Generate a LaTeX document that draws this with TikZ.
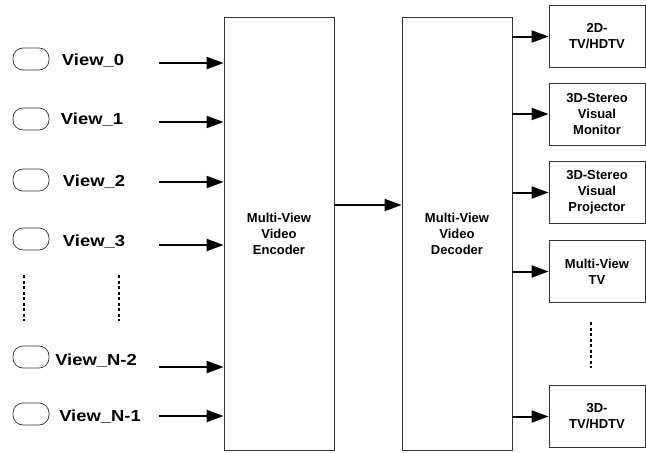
\documentclass[tikz,border=0pt]{standalone}
\usepackage{fontspec}
\setmainfont{Liberation Sans}
\newfontfamily\widesans[FakeStretch=1.15]{Liberation Sans}
\usetikzlibrary{arrows.meta}

\tikzset{
  bigbox/.style={draw=black!80, line width=0.8pt, minimum width=110pt, minimum height=433pt, align=center, font=\fontsize{13}{16}\selectfont\bfseries},
  outbox/.style={draw=black!80, line width=0.8pt, minimum width=96pt, minimum height=62pt, align=center, font=\fontsize{13}{16}\selectfont\bfseries},
  cam/.style={draw=black!80, line width=0.7pt, rounded corners=10pt, minimum width=36pt, minimum height=22pt},
  viewlbl/.style={font=\widesans\fontsize{16}{18}\selectfont\bfseries},
  arr/.style={line width=2pt, -{Triangle[length=17pt,width=12pt]}},
  dots/.style={line width=2pt, dash pattern=on 3pt off 2.5pt}
}

\begin{document}
\begin{tikzpicture}[x=1pt,y=-1pt]
\useasboundingbox (0,0) rectangle (646,453);

\node[bigbox] (enc) at (279,233.5) {Multi-View\\Video\\Encoder};
\node[bigbox] (dec) at (457,233.5) {Multi-View\\Video\\Decoder};

% views
\node[cam] (c0) at (31,59) {};
\node[cam] (c1) at (31,119) {};
\node[cam] (c2) at (31,180) {};
\node[cam] (c3) at (31,239) {};
\node[cam] (c4) at (31,357) {};
\node[cam] (c5) at (31,414) {};

\node[viewlbl] (v0) at (93,61) {View\_0};
\node[viewlbl] (v1) at (92,120) {View\_1};
\node[viewlbl] (v2) at (94,182) {View\_2};
\node[viewlbl] (v3) at (94,242) {View\_3};
\node[viewlbl] (v4) at (96,361) {View\_N-2};
\node[viewlbl] (v5) at (100,417) {View\_N-1};

\coordinate (a0) at (159,63);
\coordinate (a1) at (159,122);
\coordinate (a2) at (159,182);
\coordinate (a3) at (159,245);
\coordinate (a4) at (159,367);
\coordinate (a5) at (159,416);

\coordinate (d0) at (24,275);
\coordinate (d1) at (24,321);
\coordinate (d2) at (119,275);
\coordinate (d3) at (119,321);

% displays
\node[outbox] (o0) at (597,36.5) {2D-\\TV/HDTV};
\node[outbox] (o1) at (597,114) {3D-Stereo\\Visual\\Monitor};
\node[outbox] (o2) at (597,192.5) {3D-Stereo\\Visual\\Projector};
\node[outbox] (o3) at (597,271.5) {Multi-View\\TV};
\node[outbox] (o4) at (597,416.5) {3D-\\TV/HDTV};

\coordinate (d4) at (591,322);
\coordinate (d5) at (591,368);

\path[]
(a0) edge[arr] (a0 -| enc.west)
(a1) edge[arr] (a1 -| enc.west)
(a2) edge[arr] (a2 -| enc.west)
(a3) edge[arr] (a3 -| enc.west)
(a4) edge[arr] (a4 -| enc.west)
(a5) edge[arr] (a5 -| enc.west)
(enc.east |- 0,205) edge[arr] (dec.west |- 0,205)
(dec.east |- o0) edge[arr] (o0)
(dec.east |- o1) edge[arr] (o1)
(dec.east |- o2) edge[arr] (o2)
(dec.east |- o3) edge[arr] (o3)
(dec.east |- o4) edge[arr] (o4)
(d0) edge[dots] (d1)
(d2) edge[dots] (d3)
(d4) edge[dots] (d5)
;
\end{tikzpicture}
\end{document}
